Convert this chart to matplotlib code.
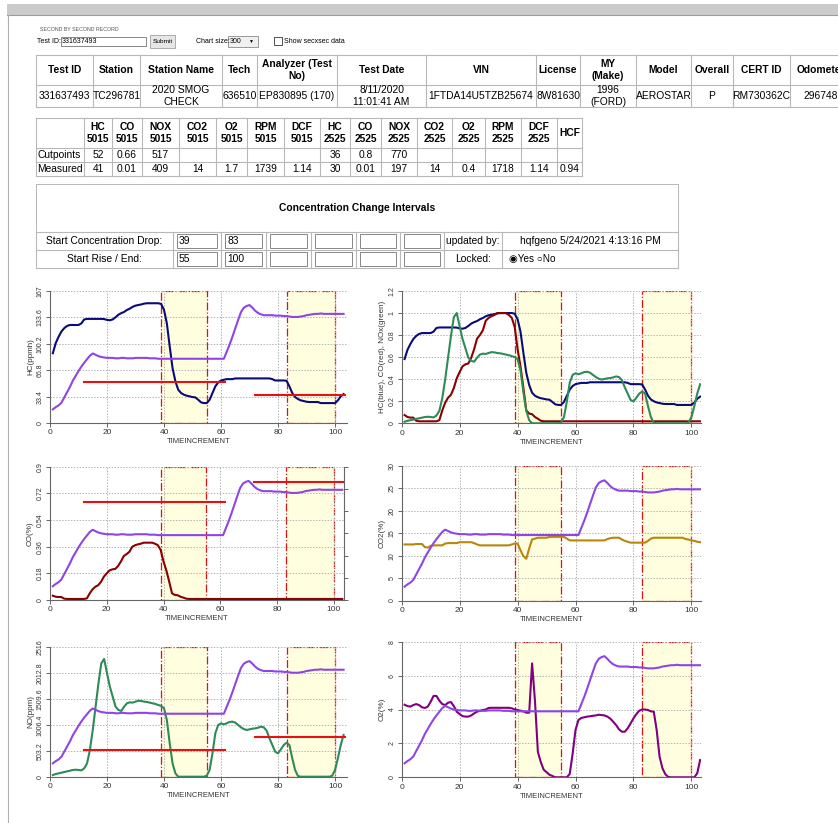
import numpy as np
import matplotlib.pyplot as plt
from matplotlib.patches import Rectangle

W, H = 838, 823
plt.rcParams['font.family'] = ['Liberation Sans', 'DejaVu Sans']

# ---- record tables ----
rec_head = ["Test ID", "Station", "Station Name", "Tech", "Analyzer (Test\nNo)", "Test Date",
            "VIN", "License", "MY\n(Make)", "Model", "Overall", "CERT ID", "Odometer"]
rec_vals = ["331637493", "TC296781", "2020 SMOG\nCHECK", "636510", "EP830895 (170)",
            "8/11/2020\n11:01:41 AM", "1FTDA14U5TZB25674", "8W81630", "1996\n(FORD)",
            "AEROSTAR", "P", "RM730362C", "296748"]

lim_head = ["", "HC\n5015", "CO\n5015", "NOX\n5015", "CO2\n5015", "O2\n5015", "RPM\n5015", "DCF\n5015",
            "HC\n2525", "CO\n2525", "NOX\n2525", "CO2\n2525", "O2\n2525", "RPM\n2525", "DCF\n2525", "HCF"]
cutpoints = ["Cutpoints", "52", "0.66", "517", "", "", "", "", "36", "0.8", "770", "", "", "", "", ""]
measured = ["Measured", "41", "0.01", "409", "14", "1.7", "1739", "1.14", "30", "0.01", "197",
            "14", "0.4", "1718", "1.14", "0.94"]

drop_start = [39, 83]
rise_end = [55, 100]

# cutpoint lines (HC, CO, NOX) for 5015 and 2525 phases
cut_from = [12, 72]
cut_to = [61.5, 103.5]
hc_cut = [52, 36]
co_cut = [0.66, 0.8]
nox_cut = [517, 770]

# ---- second by second traces ----
t = np.arange(1, 104)

speed = [3.1, 3.6, 4.0, 4.6, 5.8, 7.0, 8.2, 9.6, 10.7, 11.8,
         12.8, 13.7, 14.5, 15.3, 15.8, 15.5, 15.2, 15.0, 14.9, 14.8,
         14.8, 14.8, 14.7, 14.7, 14.8, 14.8, 14.7, 14.7, 14.7, 14.8,
         14.8, 14.8, 14.8, 14.8, 14.7, 14.7, 14.7, 14.6, 14.6, 14.6,
         14.6, 14.6, 14.6, 14.6, 14.6, 14.6, 14.6, 14.6, 14.6, 14.6,
         14.6, 14.6, 14.6, 14.6, 14.6, 14.6, 14.6, 14.6, 14.6, 14.6,
         14.6, 16.2, 17.8, 19.6, 21.5, 23.4, 25.2, 26.2, 26.6, 26.8,
         26.2, 25.5, 25.0, 24.7, 24.5, 24.5, 24.5, 24.5, 24.4, 24.4,
         24.4, 24.3, 24.3, 24.2, 24.1, 24.1, 24.1, 24.2, 24.3, 24.5,
         24.6, 24.7, 24.8, 24.8, 24.9, 24.8, 24.8, 24.8, 24.8, 24.8,
         24.8, 24.8, 24.8]

hc = [88.3, 101, 109, 115.7, 120, 122.8, 124, 124, 124, 124,
      126, 131, 131.7, 131.7, 131.7, 131.7, 131.7, 131.7, 131.5, 130.4,
      130, 131, 133.8, 137, 139, 140.5, 143, 144.7, 147, 148.5,
      149.3, 150, 151, 151.5, 151.5, 151.5, 151.5, 151.5, 150.6, 143,
      126, 96.8, 69.4, 52.6, 42, 37.9, 35.8, 34.5, 33.7, 32.8,
      32.4, 29.4, 26.1, 25.2, 25.2, 29.4, 37.9, 46.3, 51.3, 53.8,
      54.7, 55.5, 55.5, 55.5, 56.4, 56.4, 56.4, 56.4, 56.4, 56.4,
      56.4, 56.4, 56.4, 56.4, 56.4, 56.4, 56.4, 55.5, 53.8, 53.8,
      53.8, 53.8, 53.4, 46.3, 37.9, 32.8, 30.3, 28.6, 27.8, 26.9,
      26.5, 26.5, 26.5, 26.5, 25.2, 25.2, 25.2, 25.2, 25.2, 25.2,
      28.6, 33.7, 36.6]

co = [0.029, 0.022, 0.02, 0.02, 0.009, 0.007, 0.007, 0.007, 0.007, 0.007,
      0.007, 0.007, 0.011, 0.045, 0.072, 0.09, 0.1, 0.124, 0.158, 0.18,
      0.2, 0.207, 0.21, 0.23, 0.26, 0.297, 0.31, 0.326, 0.36, 0.37,
      0.376, 0.38, 0.387, 0.387, 0.387, 0.387, 0.38, 0.37, 0.338, 0.26,
      0.2, 0.124, 0.045, 0.034, 0.032, 0.022, 0.016, 0.009, 0.007, 0.007,
      0.007, 0.007, 0.007, 0.007, 0.007, 0.007, 0.007, 0.007, 0.007, 0.007,
      0.007, 0.007, 0.007, 0.007, 0.007, 0.007, 0.007, 0.007, 0.007, 0.007,
      0.007, 0.007, 0.007, 0.007, 0.007, 0.007, 0.007, 0.007, 0.007, 0.007,
      0.007, 0.007, 0.007, 0.007, 0.007, 0.007, 0.007, 0.007, 0.007, 0.007,
      0.007, 0.007, 0.007, 0.007, 0.007, 0.007, 0.007, 0.007, 0.007, 0.007,
      0.007, 0.007, 0.007]

nox = [32, 52, 65, 78, 91, 104, 117, 130, 136, 130,
       123, 162, 259, 519, 908, 1362, 1816, 2205, 2289, 2010,
       1751, 1556, 1362, 1297, 1278, 1362, 1427, 1446, 1440, 1459,
       1478, 1472, 1459, 1453, 1440, 1427, 1414, 1394, 1375, 1330,
       1102, 648, 259, 65, 0, 0, 0, 0, 0, 0,
       0, 0, 0, 0, 19, 130, 454, 843, 1005, 1038,
       1018, 1038, 1064, 1070, 1051, 1005, 960, 927, 908, 921,
       934, 940, 953, 973, 960, 895, 746, 616, 486, 454,
       532, 616, 661, 616, 357, 130, 13, 0, 0, 0,
       0, 0, 0, 0, 0, 0, 0, 0, 19, 130,
       357, 616, 811]

co2 = [12.5, 12.5, 12.5, 12.5, 12.6, 12.6, 12.6, 11.9, 11.8, 12.2,
       12.3, 12.3, 12.3, 12.3, 12.7, 12.8, 12.8, 12.8, 12.8, 13.0,
       13.0, 13.0, 13.0, 13.0, 12.8, 12.5, 12.3, 12.3, 12.3, 12.3,
       12.3, 12.3, 12.3, 12.3, 12.3, 12.3, 12.3, 12.5, 12.7, 12.7,
       11.2, 9.9, 9.3, 11.6, 13.6, 13.8, 14.0, 14.0, 14.0, 14.0,
       14.2, 14.2, 14.2, 14.2, 14.2, 14.2, 13.8, 13.4, 13.4, 13.4,
       13.4, 13.4, 13.4, 13.4, 13.4, 13.4, 13.4, 13.4, 13.4, 13.4,
       13.7, 13.9, 14.0, 14.0, 14.0, 13.6, 13.3, 13.1, 12.9, 12.9,
       12.9, 12.9, 12.9, 12.9, 13.3, 13.8, 14.0, 14.0, 14.0, 14.0,
       14.0, 14.0, 14.0, 14.0, 14.0, 14.0, 14.0, 13.7, 13.6, 13.4,
       13.3, 13.1, 13.0]

o2 = [4.28, 4.2, 4.17, 4.26, 4.32, 4.26, 4.13, 4.09, 4.17, 4.46,
      4.8, 4.8, 4.52, 4.32, 4.26, 4.4, 4.44, 4.2, 3.87, 3.73,
      3.61, 3.58, 3.58, 3.65, 3.77, 3.87, 3.93, 3.97, 4.0, 4.09,
      4.1, 4.1, 4.1, 4.1, 4.1, 4.1, 4.1, 4.07, 4.0, 3.97,
      3.93, 3.89, 3.81, 3.81, 6.72, 4.5, 1.5, 0.9, 0.45, 0.3,
      0.15, 0.08, 0, 0, 0, 0, 0, 0.2, 1.4, 2.8,
      3.38, 3.5, 3.54, 3.58, 3.6, 3.63, 3.65, 3.69, 3.67, 3.65,
      3.58, 3.46, 3.28, 3.08, 2.83, 2.69, 2.69, 2.89, 3.18, 3.48,
      3.73, 3.93, 4.0, 4.0, 3.97, 3.89, 3.87, 2.79, 1.22, 0.53,
      0.18, 0.02, 0, 0, 0, 0, 0, 0, 0, 0,
      0, 0.24, 1.02]

PURPLE = '#8f45e6'
NAVY = '#0a0a78'
DARKRED = '#8b0000'
GREEN = '#2e8b57'
GOLD = '#b8860b'
O2COL = '#800080'
CUTRED = '#e81010'

fig = plt.figure(figsize=(W / 100, H / 100), dpi=100)
page = fig.add_axes([0, 0, 1, 1])
page.set_xlim(0, W)
page.set_ylim(H, 0)
page.axis('off')

GRID = '#b8b8b8'
TFS = 10.2  # table font, px


def pt(px):
    return px * 0.72


def box(x0, y0, x1, y1, ec=GRID, fc='none', lw=1.0):
    page.add_patch(Rectangle((x0, y0), x1 - x0, y1 - y0, ec=ec, fc=fc, lw=lw * 0.72))


def hline(x0, x1, y, c=GRID):
    page.plot([x0, x1], [y, y], color=c, lw=0.8)


def vline(x, y0, y1, c=GRID):
    page.plot([x, x], [y0, y1], color=c, lw=0.8)


def table(cols, rows, cells, bold_rows=(0,), left_first=False):
    for y in rows:
        hline(cols[0], cols[-1], y)
    for x in cols:
        vline(x, rows[0], rows[-1])
    for r, row in enumerate(cells):
        yc = (rows[r] + rows[r + 1]) / 2
        for c, s in enumerate(row):
            if left_first and c == 0:
                page.text(cols[0] + 1.5, yc, s, ha='left', va='center', fontsize=pt(TFS))
            else:
                page.text((cols[c] + cols[c + 1]) / 2, yc, s, ha='center', va='center',
                          fontsize=pt(TFS), fontweight='bold' if r in bold_rows else 'normal',
                          linespacing=1.15)


# page frame and form
page.add_patch(Rectangle((7, 4), W, 11, fc='#cbcbcb', ec='none'))
hline(7, W, 15, c='#9c9c9c')
vline(8, 15, H, c='#b0b0b0')
page.text(40, 29.5, "SECOND BY SECOND RECORD", fontsize=pt(5.2), color='#555555', va='center')
page.text(37, 41.5, "Test ID:", fontsize=pt(7), va='center')
box(61, 37, 146, 46, ec='#8a8a8a')
page.text(62, 41.5, "331637493", fontsize=pt(7), va='center')
box(150, 35, 175, 48, ec='#adadad', fc='#e6e6e6')
page.text(162.5, 41.5, "Submit", fontsize=pt(6.5), va='center', ha='center')
page.text(196, 41.5, "Chart size:", fontsize=pt(7), va='center')
box(228, 36, 258, 47, ec='#9a9a9a', fc='#f0f0f0')
page.text(230, 41.5, "300", fontsize=pt(7), va='center')
page.text(251, 41.5, "\u25BC", fontsize=pt(5), va='center', ha='center')
box(274, 37, 282, 45, ec='#555555')
page.text(284, 41.5, "Show secxsec data", fontsize=pt(7), va='center')

rec_cols = [36, 93, 140, 222, 257, 337, 426, 536, 580, 636, 691, 733, 790, 852]
table(rec_cols, [55, 85, 107], [rec_head, rec_vals])

lim_cols = [36, 84, 112, 142, 179, 216, 247, 284, 320, 350, 381, 417, 452, 485, 521, 557, 582]
table(lim_cols, [118, 148, 162, 176], [lim_head, cutpoints, measured], left_first=True)

# concentration change intervals
box(36, 184, 678, 268)
page.text(357, 208, "Concentration Change Intervals", fontsize=pt(TFS), fontweight='bold',
          ha='center', va='center')
cc_cols = [36, 173, 221, 266, 311, 356, 400, 444, 502, 678]
for y in [232, 250, 268]:
    hline(36, 678, y)
for x in cc_cols:
    vline(x, 232, 268)
for r, (lab, vals, yc) in enumerate([("Start Concentration Drop:", drop_start, 241),
                                     ("Start Rise / End:", rise_end, 259)]):
    page.text(104.5, yc, lab, fontsize=pt(TFS), ha='center', va='center')
    for i in range(6):
        x0 = cc_cols[i + 1] + 4
        x1 = cc_cols[i + 2] - 4
        box(x0, yc - 7, x1, yc + 7, ec='#8a8a8a')
        if i < len(vals):
            page.text(x0 + 2, yc, str(vals[i]), fontsize=pt(TFS), va='center')
page.text(473, 241, "updated by:", fontsize=pt(TFS), ha='center', va='center')
page.text(590, 241, "hqfgeno 5/24/2021 4:13:16 PM", fontsize=pt(TFS), ha='center', va='center')
page.text(473, 259, "Locked:", fontsize=pt(TFS), ha='center', va='center')
page.text(509, 259, "\u25C9Yes \u25CBNo", fontsize=pt(10), va='center')


def chart(px, ylim, yticks, ylabs, ylabel, xmax, right_ticks=False):
    l, t0, r, b = px
    ax = fig.add_axes([l / W, 1 - b / H, (r - l) / W, (b - t0) / H])
    for d, e in zip(drop_start, rise_end):
        ax.add_patch(Rectangle((d, 0), e - d, ylim, fc='#ffffe0', ec='#d81515', ls='-.',
                               lw=0.9, zorder=0.2))
    ax.set_xlim(0, xmax)
    ax.set_ylim(0, ylim)
    ax.set_xticks([0, 20, 40, 60, 80, 100])
    ax.set_yticks(yticks)
    ax.set_yticklabels(ylabs, rotation=90, va='center', fontsize=5)
    ax.set_axisbelow(True)
    ax.grid(True, color='#b4b4b4', ls=(0, (1.5, 1.5)), lw=0.7)
    for s in ['top', 'right']:
        ax.spines[s].set_visible(False)
    for s in ['left', 'bottom']:
        ax.spines[s].set_color('#666666')
        ax.spines[s].set_linewidth(0.8)
    ax.tick_params(length=3, width=0.7, color='#666666', labelcolor='#333333', pad=1.5)
    ax.tick_params(axis='x', labelsize=6)
    ax.set_xlabel("TIMEINCREMENT", fontsize=5.5, labelpad=1.5, color='#333333')
    ax.set_ylabel(ylabel, fontsize=5.8, labelpad=2, color='#333333')
    ax2 = ax.twinx()
    ax2.set_ylim(0, 30)
    for s in ['top', 'left', 'bottom']:
        ax2.spines[s].set_visible(False)
    if right_ticks:
        ax2.spines['right'].set_color('#666666')
        ax2.spines['right'].set_linewidth(0.8)
        ax2.set_yticks([0, 5, 10, 15, 20, 25, 30])
        ax2.tick_params(length=3, width=0.7, color='#666666', labelright=False)
    else:
        ax2.spines['right'].set_visible(False)
        ax2.set_yticks([])
    return ax, ax2


LW = 1.5

# HC
ax, ax2 = chart((50, 291, 347, 423), 167, [0, 33.4, 66.8, 100.2, 133.6, 167],
                ["0", "33.4", "66.8", "100.2", "133.6", "167"], "HC(ppmh)", 104.2)
ax.plot(t, hc, color=NAVY, lw=LW)
for a, b_, v in zip(cut_from, cut_to, hc_cut):
    ax.plot([a, b_], [v, v], color=CUTRED, lw=LW)
ax2.plot(t, speed, color=PURPLE, lw=LW)

# normalised HC / CO / NOx
ax, ax2 = chart((401.7, 291, 701, 423.3), 1.2, [0, 0.2, 0.4, 0.6, 0.8, 1, 1.2],
                ["0", "0.2", "0.4", "0.6", "0.8", "1", "1.2"], "HC(blue), CO(red), NOx(green)", 103.3)
ax.plot(t, np.array(hc) / max(hc), color=NAVY, lw=LW)
ax.plot(t, np.array(co) / max(co), color=DARKRED, lw=LW)
ax.plot(t, np.array(nox) / max(nox), color=GREEN, lw=LW)

# CO
ax, ax2 = chart((50, 466.7, 344, 600), 0.9, [0, 0.18, 0.36, 0.54, 0.72, 0.9],
                ["0", "0.18", "0.36", "0.54", "0.72", "0.9"], "CO(%)", 103.6, right_ticks=True)
ax.plot(t, co, color=DARKRED, lw=LW)
for a, b_, v in zip(cut_from, cut_to, co_cut):
    ax.plot([a, b_], [v, v], color=CUTRED, lw=LW)
ax2.plot(t, speed, color=PURPLE, lw=LW)

# CO2
ax, ax2 = chart((401.7, 466, 701, 600.5), 30, [0, 5, 10, 15, 20, 25, 30],
                ["0", "5", "10", "15", "20", "25", "30"], "CO2(%)", 103.3)
ax.plot(t, co2, color=GOLD, lw=LW)
ax2.plot(t, speed, color=PURPLE, lw=LW)

# NO
ax, ax2 = chart((50, 647.3, 347, 776.7), 2516, [0, 503.2, 1006.4, 1509.6, 2012.8, 2516],
                ["0", "503.2", "1006.4", "1509.6", "2012.8", "2516"], "NO(ppm)", 104.2)
ax.plot(t, nox, color=GREEN, lw=LW)
for a, b_, v in zip(cut_from, cut_to, nox_cut):
    ax.plot([a, b_], [v, v], color=CUTRED, lw=LW)
ax2.plot(t, speed, color=PURPLE, lw=LW)

# O2
ax, ax2 = chart((401.7, 641.7, 701, 777.3), 8, [0, 2, 4, 6, 8],
                ["0", "2", "4", "6", "8"], "O2(%)", 103.3)
ax.plot(t, o2, color=O2COL, lw=LW)
ax2.plot(t, speed, color=PURPLE, lw=LW)

fig.savefig('out.png', dpi=100)
